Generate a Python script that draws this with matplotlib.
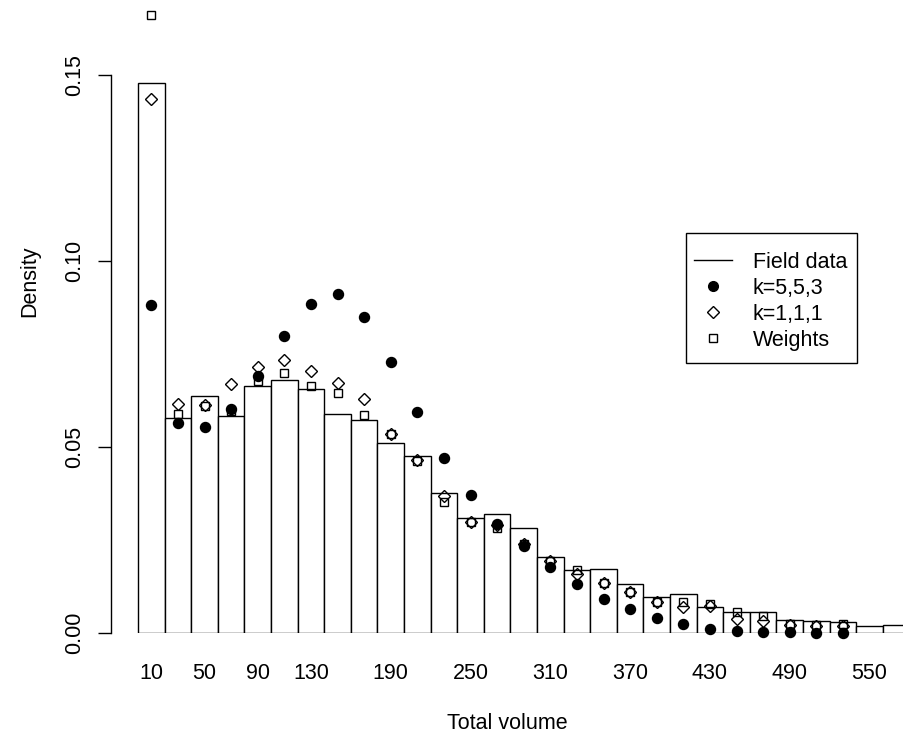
import matplotlib
matplotlib.use("Agg")
import matplotlib.pyplot as plt
from matplotlib.lines import Line2D
from matplotlib.patches import Rectangle

plt.rcParams['font.family'] = ['Liberation Sans', 'DejaVu Sans']

# bin midpoints of total volume (bins 20 wide)
mids = [10, 30, 50, 70, 90, 110, 130, 150, 170, 190, 210, 230, 250, 270, 290,
        310, 330, 350, 370, 390, 410, 430, 450, 470, 490, 510, 530, 550, 570]
field = [0.1479, 0.0577, 0.0638, 0.0584, 0.0664, 0.0680, 0.0657, 0.0590, 0.0573,
         0.0510, 0.0477, 0.0377, 0.0310, 0.0320, 0.0282, 0.0203, 0.0169, 0.0171,
         0.0131, 0.0097, 0.0104, 0.0070, 0.0057, 0.0056, 0.0036, 0.0033, 0.0030,
         0.0020, 0.0021]

pt_mids = mids[:27]
k553 = [0.0881, 0.0564, 0.0555, 0.0601, 0.0691, 0.0799, 0.0884, 0.0910, 0.0850,
        0.0728, 0.0593, 0.0470, 0.0370, 0.0293, 0.0235, 0.0178, 0.0131, 0.0092,
        0.0064, 0.0040, 0.0024, 0.0012, 0.0006, 0.0003, 0.0002, 0.0001, 0.0001]
k111 = [0.1435, 0.0616, 0.0613, 0.0669, 0.0714, 0.0734, 0.0705, 0.0673, 0.0628,
        0.0534, 0.0465, 0.0368, 0.0299, 0.0290, 0.0240, 0.0194, 0.0159, 0.0134,
        0.0109, 0.0084, 0.0069, 0.0073, 0.0038, 0.0033, 0.0022, 0.0020, 0.0018]
weights = [0.1661, 0.0589, 0.0611, 0.0598, 0.0677, 0.0698, 0.0664, 0.0646, 0.0586,
           0.0534, 0.0462, 0.0353, 0.0299, 0.0282, 0.0238, 0.0194, 0.0169, 0.0134,
           0.0109, 0.0084, 0.0082, 0.0078, 0.0056, 0.0046, 0.0024, 0.0021, 0.0024]

xtick_pos = [10, 50, 90, 130, 190, 250, 310, 370, 430, 490, 550]
xtick_labels = ['10', '50', '90', '130', '190', '250', '310', '370', '430', '490', '550']
yticks = [0.00, 0.05, 0.10, 0.15]
ytick_labels = ['0.00', '0.05', '0.10', '0.15']

FS = 15.5
W, H = 904, 736
fig = plt.figure(figsize=(W / 100, H / 100), dpi=100)
ax = fig.add_axes([111 / W, 103 / H, (W - 111) / W, 633 / H])

ax.bar(mids, field, width=20, color='white', edgecolor='black', linewidth=1.0)
ax.plot(pt_mids, k553, 'o', color='black', markersize=7.2, clip_on=False)
ax.plot(pt_mids, k111, 'D', markerfacecolor='none', markeredgecolor='black',
        markersize=6.5, markeredgewidth=1.0, clip_on=False)
ax.plot(pt_mids, weights, 's', markerfacecolor='none', markeredgecolor='black',
        markersize=6.2, markeredgewidth=1.0, clip_on=False)

ax.set_xlim(-20.3, 575.9)
ax.set_ylim(0, 633 / 3720)

for s in ['top', 'right', 'bottom']:
    ax.spines[s].set_visible(False)
ax.spines['left'].set_bounds(0, 0.15)
ax.spines['left'].set_linewidth(1.0)

ax.set_xticks(xtick_pos)
ax.set_xticklabels(xtick_labels, fontsize=FS)
ax.tick_params(axis='x', length=0, pad=21.5)

ax.set_yticks(yticks)
ax.set_yticklabels(ytick_labels, fontsize=FS, rotation=90, va='center')
ax.tick_params(axis='y', length=9.4, width=1.0, pad=9)

fig.text(30 / W, 1 - 281 / H, 'Density', rotation=90, ha='center', va='center',
         fontsize=FS)
fig.text(507 / W, 1 - 729 / H, 'Total volume', ha='center', va='baseline',
         fontsize=FS)

# legend: R-style box drawn separately so the padding can differ per side
handles = [
    Line2D([], [], color='black', linewidth=1.0),
    Line2D([], [], linestyle='none', marker='o', color='black', markersize=7),
    Line2D([], [], linestyle='none', marker='D', markerfacecolor='none',
           markeredgecolor='black', markersize=6),
    Line2D([], [], linestyle='none', marker='s', markerfacecolor='none',
           markeredgecolor='black', markersize=6),
]
fig.legend(handles, ['Field data', 'k=5,5,3', 'k=1,1,1', 'Weights'],
           loc='upper right', bbox_to_anchor=(857 / W, 1 - 242 / H),
           fontsize=FS, frameon=False, borderpad=0.45, handlelength=1.8,
           handletextpad=0.95, labelspacing=0.23, borderaxespad=0)
fig.patches.append(Rectangle((686 / W, 1 - 363 / H), 171 / W, 130 / H,
                             transform=fig.transFigure, fill=False,
                             edgecolor='black', linewidth=1.0))

fig.savefig('out.png', dpi=100)
